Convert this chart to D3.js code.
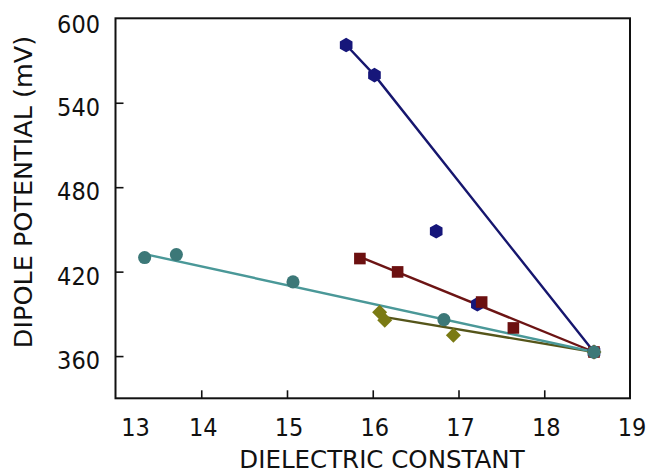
<!DOCTYPE html>
<html><head><meta charset="utf-8">
<script src="https://cdn.jsdelivr.net/npm/d3@7"></script>
<style>
body{margin:0;background:#fff;}
text{font-family:"DejaVu Sans Condensed","DejaVu Sans",sans-serif;fill:#111;}
text.title{font-family:"DejaVu Sans",sans-serif;}
</style></head>
<body><svg id="c" width="649" height="475"></svg>
<script>
const xTicks = [13,14,15,16,17,18,19];
const yTicks = [360,420,480,540,600];

const blueX = [15.69,16.02,16.74,17.22,18.58];
const blueY = [581,559.6,448.7,396.8,362.9];
const blueFitX = [15.69,16.02,18.58];
const blueFitY = [581,559.6,362.9];

const redX = [15.85,16.29,17.27,17.64,18.58];
const redY = [429.3,419.8,398.4,380,362.9];
const redFitX = [15.85,18.58];
const redFitY = [430.5,362.9];

const oliveX = [16.08,16.14,16.94,18.58];
const oliveY = [391.1,385.4,374.8,362.9];
const oliveFitX = [16.11,18.58];
const oliveFitY = [388,362.9];

const tealX = [13.34,13.71,15.07,16.83,18.58];
const tealY = [430,432.1,412.7,385.9,362.9];
const tealFitX = [13.3,18.58];
const tealFitY = [433,362.9];

const svg=d3.select("#c");
const L=115.5,R=630,T=18.3,B=398.3;
const x=d3.scaleLinear().domain([13,19]).range([L,R]);
const y=d3.scaleLinear().domain([330,600]).range([B,T]);

const xa=d3.axisBottom(x).tickValues(xTicks.slice(1,-1)).tickSize(-8).tickFormat("");
svg.append("g").attr("transform",`translate(0,${B})`).call(xa)
  .call(g=>{g.select(".domain").remove();g.selectAll("line").attr("stroke","#111").attr("stroke-width",1.6);});
const ya=d3.axisLeft(y).tickValues(yTicks.slice(0,-1)).tickSize(-8).tickFormat("");
svg.append("g").attr("transform",`translate(${L},0)`).call(ya)
  .call(g=>{g.select(".domain").remove();g.selectAll("line").attr("stroke","#111").attr("stroke-width",1.6);});

svg.append("rect").attr("x",L).attr("y",T).attr("width",R-L).attr("height",B-T)
  .attr("fill","none").attr("stroke","#111").attr("stroke-width",2);

svg.append("g").selectAll("text").data(xTicks).join("text")
  .attr("x",(d,i)=>x(d)+(i===0?20:2)).attr("y",436)
  .attr("text-anchor","middle").attr("font-size",25).text(d=>d);
svg.append("g").selectAll("text").data(yTicks).join("text")
  .attr("x",100).attr("y",(d,i)=>y(d)+(i===yTicks.length-1?6:4)).attr("dy","0.36em")
  .attr("text-anchor","end").attr("font-size",25).text(d=>d);

svg.append("text").attr("class","title").attr("x",382).attr("y",468).attr("text-anchor","middle")
  .attr("font-size",24.5).text("DIELECTRIC CONSTANT");
svg.append("text").attr("class","title").attr("transform","translate(32,192) rotate(-90)").attr("text-anchor","middle")
  .attr("font-size",25.5).text("DIPOLE POTENTIAL (mV)");

const line=d3.line().x(d=>x(d[0])).y(d=>y(d[1]));
const zip=(a,b)=>a.map((v,i)=>[v,b[i]]);

function hexPath(r){let p=[];for(let k=0;k<6;k++){const a=Math.PI/6+k*Math.PI/3;p.push([r*Math.cos(a),r*Math.sin(a)]);}return "M"+p.map(q=>q.join(",")).join("L")+"Z";}
function diamondPath(r){return `M0,${-r}L${r},0L0,${r}L${-r},0Z`;}

const series=[
 {px:blueX,py:blueY,fx:blueFitX,fy:blueFitY,c:"#16167a",lc:"#16166e",p:hexPath(7.3)},
 {px:redX,py:redY,fx:redFitX,fy:redFitY,c:"#6c1010",lc:"#6c1414",p:d3.symbol().type(d3.symbolSquare).size(135)()},
 {px:oliveX,py:oliveY,fx:oliveFitX,fy:oliveFitY,c:"#7a7a14",lc:"#55551a",p:diamondPath(7.5)},
 {px:tealX,py:tealY,fx:tealFitX,fy:tealFitY,c:"#3c7878",lc:"#4a9898",p:d3.symbol().type(d3.symbolCircle).size(135)()},
];
series.forEach(s=>{
  svg.append("path").attr("d",line(zip(s.fx,s.fy))).attr("fill","none")
    .attr("stroke",s.lc).attr("stroke-width",2.4);
});
series.forEach(s=>{
  const g=svg.append("g");
  zip(s.px,s.py).forEach(d=>{
    g.append("path").attr("d",s.p).attr("transform",`translate(${x(d[0])},${y(d[1])})`).attr("fill",s.c);
  });
});
</script></body></html>
